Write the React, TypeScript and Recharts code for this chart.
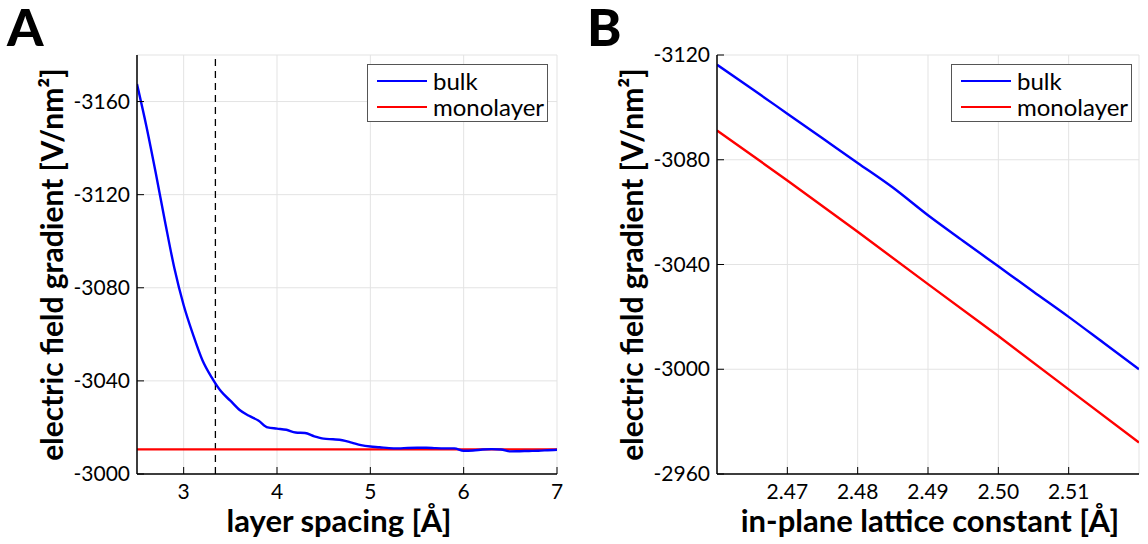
import React from 'react';
import { LineChart, Line, XAxis, YAxis, CartesianGrid, ReferenceLine, Label } from 'recharts';

// panel A: efg vs layer spacing
const layerSpacing = [
  2.5, 2.6, 2.7, 2.8, 2.9, 3.0, 3.1, 3.2, 3.3, 3.4, 3.5, 3.6, 3.7, 3.8, 3.9, 4.0, 4.1, 4.2, 4.3, 4.4, 4.5, 4.6, 4.7,
  4.8, 4.9, 5.0, 5.1, 5.2, 5.3, 5.4, 5.5, 5.6, 5.7, 5.8, 5.9, 6.0, 6.1, 6.2, 6.3, 6.4, 6.5, 6.6, 6.7, 6.8, 6.9, 7.0,
];
const bulkVsSpacing = [
  -3167.5, -3149.5, -3129.5, -3108.5, -3088.5, -3072.5, -3060, -3049, -3041.5, -3035.5, -3031.5, -3027.5, -3025,
  -3023, -3020, -3019.5, -3019, -3017.8, -3017.6, -3016.2, -3015.2, -3014.9, -3014.5, -3013.5, -3012.4, -3011.8,
  -3011.5, -3011.1, -3011.0, -3011.2, -3011.3, -3011.3, -3011.1, -3011.0, -3011.0, -3010.0, -3010.1, -3010.5,
  -3010.7, -3010.5, -3009.7, -3009.8, -3009.9, -3010.0, -3010.2, -3010.4,
];
const monolayerSpacingX = [2.5, 7.0];
const monolayerVsSpacing = [-3010.6, -3010.6];
const graphiteSpacing = 3.34;

// panel B: efg vs in-plane lattice constant
const latticeConst = [2.46, 2.465, 2.47, 2.475, 2.48, 2.485, 2.49, 2.495, 2.5, 2.505, 2.51, 2.515, 2.52];
const bulkVsLattice = [
  -3116.3, -3107.0, -3097.6, -3088.2, -3078.8, -3069.4, -3058.8, -3049.0, -3039.3, -3029.6, -3020.0, -3010.0,
  -3000.0,
];
const monolayerLatticeX = [2.46, 2.47, 2.48, 2.49, 2.5, 2.51, 2.52];
const monolayerVsLattice = [-3091.2, -3072.1, -3052.5, -3032.5, -3012.7, -2992.3, -2972.0];

const FONT = 'Lato, "Open Sans", sans-serif';
const TICK = 7;

const toRows = (xs: number[], ys: number[]) => xs.map((x, i) => ({ x, y: ys[i] }));

const bottomTick = (fmt: (v: number) => string) => (props: any) => {
  const { x, y, payload } = props;
  return (
    <g>
      <line x1={x} x2={x} y1={y} y2={y - TICK} stroke="#000" strokeWidth={1} />
      <text x={x} y={y + 25} textAnchor="middle" fontSize={21} fontFamily={FONT} fill="#000">
        {fmt(payload.value)}
      </text>
    </g>
  );
};

const topTick = (props: any) => {
  const { x, y } = props;
  return <line x1={x} x2={x} y1={y} y2={y + TICK} stroke="#000" strokeWidth={1} />;
};

const leftTick = (props: any) => {
  const { x, y, payload } = props;
  return (
    <g>
      <line x1={x} x2={x + TICK} y1={y} y2={y} stroke="#000" strokeWidth={1} />
      <text x={x - 7} y={y + 7} textAnchor="end" fontSize={21} fontFamily={FONT} fill="#000">
        {payload.value}
      </text>
    </g>
  );
};

const rightTick = (props: any) => {
  const { x, y } = props;
  return <line x1={x} x2={x - TICK} y1={y} y2={y} stroke="#000" strokeWidth={1} />;
};

interface PanelProps {
  letter: string;
  width: number;
  marginRight: number;
  xDomain: [number, number];
  xTicks: number[];
  xFmt: (v: number) => string;
  yDomain: [number, number];
  yTicks: number[];
  xLabel: string;
  xLabelShift: number;
  bulk: { x: number; y: number }[];
  mono: { x: number; y: number }[];
  refX?: number;
  legendLeft: number;
}

const Panel: React.FC<PanelProps> = (p) => {
  const plotLeft = 137;
  const plotTop = 55;
  const plotBottom = 474;
  const plotRight = p.width - p.marginRight;
  const midY = (plotTop + plotBottom) / 2;
  const midX = (plotLeft + plotRight) / 2;
  return (
    <div style={{ position: 'relative', width: p.width, height: 544 }}>
      <div
        style={{
          position: 'absolute',
          left: 7,
          top: 4,
          lineHeight: '44px',
          fontFamily: FONT,
          fontWeight: 900,
          fontSize: 52,
          color: '#000',
        }}
      >
        {p.letter}
      </div>
      <LineChart
        width={p.width}
        height={544}
        margin={{ top: plotTop, right: p.marginRight, bottom: 10, left: plotLeft - 80 }}
      >
        <CartesianGrid stroke="#e3e3e3" strokeWidth={1} xAxisId="b" yAxisId="l" />
        <XAxis
          xAxisId="b"
          type="number"
          dataKey="x"
          domain={p.xDomain}
          ticks={p.xTicks}
          interval={0}
          allowDataOverflow
          height={60}
          tickSize={0}
          tickMargin={0}
          tick={bottomTick(p.xFmt)}
          axisLine={{ stroke: '#000', strokeWidth: 1.5 }}
        >
          <Label
            content={() => (
              <text
                x={midX + p.xLabelShift}
                y={532}
                textAnchor="middle"
                fontSize={31}
                fontWeight={700}
                fontFamily={FONT}
                fill="#000"
              >
                {p.xLabel}
              </text>
            )}
          />
        </XAxis>
        <XAxis
          xAxisId="t"
          orientation="top"
          type="number"
          dataKey="x"
          domain={p.xDomain}
          ticks={p.xTicks}
          interval={0}
          allowDataOverflow
          height={0}
          tickSize={0}
          tickMargin={0}
          tick={topTick}
          axisLine={{ stroke: '#000', strokeWidth: 1.5 }}
        />
        <YAxis
          yAxisId="l"
          type="number"
          domain={p.yDomain}
          ticks={p.yTicks}
          interval={0}
          reversed
          allowDataOverflow
          width={80}
          tickSize={0}
          tickMargin={0}
          tick={leftTick}
          axisLine={{ stroke: '#000', strokeWidth: 1.5 }}
        >
          <Label
            content={() => (
              <text
                x={63}
                y={midY}
                transform={`rotate(-90 63 ${midY})`}
                textAnchor="middle"
                fontSize={30}
                fontWeight={700}
                fontFamily={FONT}
                fill="#000"
              >
                electric field gradient [V/nm²]
              </text>
            )}
          />
        </YAxis>
        <YAxis
          yAxisId="r"
          orientation="right"
          type="number"
          domain={p.yDomain}
          ticks={p.yTicks}
          interval={0}
          reversed
          allowDataOverflow
          width={0}
          tickSize={0}
          tickMargin={0}
          tick={rightTick}
          axisLine={{ stroke: '#000', strokeWidth: 1.5 }}
        />
        {p.refX !== undefined && (
          <ReferenceLine
            xAxisId="b"
            yAxisId="l"
            x={p.refX}
            stroke="#000"
            strokeWidth={1.3}
            strokeDasharray="7 5"
          />
        )}
        <Line
          xAxisId="b"
          yAxisId="l"
          data={p.mono}
          dataKey="y"
          type="linear"
          stroke="#ff0000"
          strokeWidth={2.4}
          dot={false}
          isAnimationActive={false}
        />
        <Line
          xAxisId="b"
          yAxisId="l"
          data={p.bulk}
          dataKey="y"
          type="monotone"
          stroke="#0000ff"
          strokeWidth={2.4}
          dot={false}
          isAnimationActive={false}
        />
      </LineChart>
      <div
        style={{
          position: 'absolute',
          left: p.legendLeft,
          top: 64,
          width: 179,
          height: 56,
          border: '1px solid #555',
          background: '#fff',
          fontFamily: FONT,
          fontSize: 24,
          color: '#000',
        }}
      >
        {[
          { name: 'bulk', color: '#0000ff', top: 16 },
          { name: 'monolayer', color: '#ff0000', top: 42 },
        ].map((it) => (
          <div
            key={it.name}
            style={{ position: 'absolute', left: 9, top: it.top - 12, height: 24, display: 'flex', alignItems: 'center' }}
          >
            <div style={{ width: 50, height: 2.5, background: it.color, marginRight: 6 }} />
            <span style={{ lineHeight: '24px' }}>{it.name}</span>
          </div>
        ))}
      </div>
    </div>
  );
};

export default function App() {
  return (
    <div style={{ position: 'absolute', left: 0, top: 0, width: 1148, height: 544, background: '#fff', display: 'flex' }}>
      <Panel
        letter="A"
        width={580}
        marginRight={23}
        xDomain={[2.5, 7]}
        xTicks={[3, 4, 5, 6, 7]}
        xFmt={(v) => String(v)}
        yDomain={[-3180, -3000]}
        yTicks={[-3160, -3120, -3080, -3040, -3000]}
        xLabel="layer spacing [Å]"
        xLabelShift={-8}
        bulk={toRows(layerSpacing, bulkVsSpacing)}
        mono={toRows(monolayerSpacingX, monolayerVsSpacing)}
        refX={graphiteSpacing}
        legendLeft={367}
      />
      <Panel
        letter="B"
        width={568}
        marginRight={9}
        xDomain={[2.46, 2.52]}
        xTicks={[2.47, 2.48, 2.49, 2.5, 2.51]}
        xFmt={(v) => v.toFixed(2)}
        yDomain={[-3120, -2960]}
        yTicks={[-3120, -3080, -3040, -3000, -2960]}
        xLabel="in-plane lattice constant [Å]"
        xLabelShift={2}
        bulk={toRows(latticeConst, bulkVsLattice)}
        mono={toRows(monolayerLatticeX, monolayerVsLattice)}
        legendLeft={371}
      />
    </div>
  );
}
